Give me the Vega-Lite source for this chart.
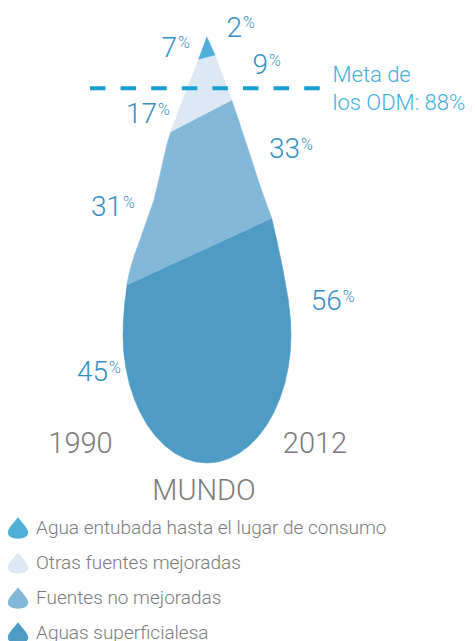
{
  "$schema": "https://vega.github.io/schema/vega-lite/v6.json",
  "width": 475,
  "height": 641,
  "autosize": {"type": "fit", "contains": "padding"},
  "padding": 0,
  "background": "white",
  "config": {"view": {"stroke": null}, "text": {"font": "Roboto", "fontWeight": 300}},
  "datasets": {
    "bands": [
      {"band": "Aguas superficialesa", "i": 0, "x": 126.7, "y": 285},
      {"band": "Aguas superficialesa", "i": 1, "x": 271.7, "y": 218.3},
      {"band": "Aguas superficialesa", "i": 2, "x": 276.7, "y": 240},
      {"band": "Aguas superficialesa", "i": 3, "x": 283, "y": 270},
      {"band": "Aguas superficialesa", "i": 4, "x": 288.3, "y": 300},
      {"band": "Aguas superficialesa", "i": 5, "x": 290.5, "y": 320},
      {"band": "Aguas superficialesa", "i": 6, "x": 291, "y": 335},
      {"band": "Aguas superficialesa", "i": 7, "x": 290.3, "y": 351.7},
      {"band": "Aguas superficialesa", "i": 8, "x": 288.1, "y": 368.1},
      {"band": "Aguas superficialesa", "i": 9, "x": 284.6, "y": 384},
      {"band": "Aguas superficialesa", "i": 10, "x": 279.7, "y": 399},
      {"band": "Aguas superficialesa", "i": 11, "x": 273.6, "y": 412.9},
      {"band": "Aguas superficialesa", "i": 12, "x": 266.4, "y": 425.5},
      {"band": "Aguas superficialesa", "i": 13, "x": 258.1, "y": 436.6},
      {"band": "Aguas superficialesa", "i": 14, "x": 249, "y": 445.8},
      {"band": "Aguas superficialesa", "i": 15, "x": 239.1, "y": 453.3},
      {"band": "Aguas superficialesa", "i": 16, "x": 228.8, "y": 458.6},
      {"band": "Aguas superficialesa", "i": 17, "x": 218, "y": 461.9},
      {"band": "Aguas superficialesa", "i": 18, "x": 207, "y": 463},
      {"band": "Aguas superficialesa", "i": 19, "x": 196, "y": 461.9},
      {"band": "Aguas superficialesa", "i": 20, "x": 185.2, "y": 458.6},
      {"band": "Aguas superficialesa", "i": 21, "x": 174.9, "y": 453.3},
      {"band": "Aguas superficialesa", "i": 22, "x": 165, "y": 445.8},
      {"band": "Aguas superficialesa", "i": 23, "x": 155.9, "y": 436.6},
      {"band": "Aguas superficialesa", "i": 24, "x": 147.6, "y": 425.5},
      {"band": "Aguas superficialesa", "i": 25, "x": 140.4, "y": 412.9},
      {"band": "Aguas superficialesa", "i": 26, "x": 134.3, "y": 399},
      {"band": "Aguas superficialesa", "i": 27, "x": 129.4, "y": 384},
      {"band": "Aguas superficialesa", "i": 28, "x": 125.9, "y": 368.1},
      {"band": "Aguas superficialesa", "i": 29, "x": 123.7, "y": 351.7},
      {"band": "Aguas superficialesa", "i": 30, "x": 123, "y": 335},
      {"band": "Aguas superficialesa", "i": 31, "x": 123.5, "y": 320},
      {"band": "Aguas superficialesa", "i": 32, "x": 125, "y": 300},
      {"band": "Fuentes no mejoradas", "i": 0, "x": 170.7, "y": 131.7},
      {"band": "Fuentes no mejoradas", "i": 1, "x": 231.7, "y": 100},
      {"band": "Fuentes no mejoradas", "i": 2, "x": 238.5, "y": 120},
      {"band": "Fuentes no mejoradas", "i": 3, "x": 245, "y": 140},
      {"band": "Fuentes no mejoradas", "i": 4, "x": 251.7, "y": 160},
      {"band": "Fuentes no mejoradas", "i": 5, "x": 258, "y": 180},
      {"band": "Fuentes no mejoradas", "i": 6, "x": 265, "y": 200},
      {"band": "Fuentes no mejoradas", "i": 7, "x": 271.7, "y": 218.3},
      {"band": "Fuentes no mejoradas", "i": 8, "x": 126.7, "y": 285},
      {"band": "Fuentes no mejoradas", "i": 9, "x": 130, "y": 270},
      {"band": "Fuentes no mejoradas", "i": 10, "x": 134.5, "y": 255},
      {"band": "Fuentes no mejoradas", "i": 11, "x": 140, "y": 240},
      {"band": "Fuentes no mejoradas", "i": 12, "x": 147, "y": 220},
      {"band": "Fuentes no mejoradas", "i": 13, "x": 154, "y": 200},
      {"band": "Fuentes no mejoradas", "i": 14, "x": 158.8, "y": 180},
      {"band": "Fuentes no mejoradas", "i": 15, "x": 163.3, "y": 160},
      {"band": "Fuentes no mejoradas", "i": 16, "x": 168, "y": 140},
      {"band": "Otras fuentes mejoradas", "i": 0, "x": 198.3, "y": 59.3},
      {"band": "Otras fuentes mejoradas", "i": 1, "x": 215, "y": 55},
      {"band": "Otras fuentes mejoradas", "i": 2, "x": 223.2, "y": 77},
      {"band": "Otras fuentes mejoradas", "i": 3, "x": 231.7, "y": 100},
      {"band": "Otras fuentes mejoradas", "i": 4, "x": 170.7, "y": 131.7},
      {"band": "Otras fuentes mejoradas", "i": 5, "x": 177.1, "y": 115},
      {"band": "Otras fuentes mejoradas", "i": 6, "x": 184.3, "y": 96},
      {"band": "Otras fuentes mejoradas", "i": 7, "x": 191.2, "y": 78},
      {"band": "Agua entubada hasta el lugar de consumo", "i": 0, "x": 206.7, "y": 36.7},
      {"band": "Agua entubada hasta el lugar de consumo", "i": 1, "x": 215, "y": 55},
      {"band": "Agua entubada hasta el lugar de consumo", "i": 2, "x": 198.3, "y": 59.3}
    ],
    "pct": [
      {"t": "2", "x": 242, "y": 36.7},
      {"t": "7", "x": 177, "y": 56.7},
      {"t": "9", "x": 268, "y": 74},
      {"t": "17", "x": 157, "y": 123},
      {"t": "33", "x": 300, "y": 158.3},
      {"t": "31", "x": 122, "y": 216},
      {"t": "56", "x": 341.7, "y": 310},
      {"t": "45", "x": 108, "y": 381}
    ],
    "gray": [
      {"t": "1990", "x": 80.5, "y": 453.3},
      {"t": "2012", "x": 315, "y": 453.3},
      {"t": "MUNDO", "x": 204, "y": 500}
    ],
    "meta": [
      {"t": "Meta de", "x": 332.5, "y": 82},
      {"t": "los ODM: 88%", "x": 332.5, "y": 110}
    ],
    "goal": [{"x": 90, "x2": 320, "y": 88.3}]
  },
  "layer": [
    {
      "data": {"name": "bands"},
      "mark": {"type": "line", "strokeWidth": 0.6, "interpolate": "linear"},
      "encoding": {
        "x": {"field": "x", "type": "quantitative", "scale": {"domain": [0, 475], "nice": false, "zero": false}, "axis": null},
        "y": {"field": "y", "type": "quantitative", "scale": {"domain": [0, 641], "nice": false, "zero": false, "reverse": true}, "axis": null},
        "order": {"field": "i", "type": "quantitative"},
        "fill": {
          "field": "band", "type": "nominal",
          "scale": {
            "domain": ["Agua entubada hasta el lugar de consumo", "Otras fuentes mejoradas", "Fuentes no mejoradas", "Aguas superficialesa"],
            "range": ["#4fb0d8", "#dce9f4", "#84b8d8", "#4e9bc6"]
          },
          "legend": {
            "orient": "none",
            "legendX": 7,
            "legendY": 517,
            "title": null,
            "padding": 0,
            "symbolType": "M0,-1 C0.3,-0.55 0.95,0 0.95,0.42 C0.95,0.8 0.5,1 0,1 C-0.5,1 -0.95,0.8 -0.95,0.42 C-0.95,0 -0.3,-0.55 0,-1 Z",
            "symbolSize": 460,
            "symbolStrokeWidth": 0,
            "symbolOpacity": 1,
            "labelFont": "Roboto",
            "labelFontWeight": 300,
            "labelFontSize": 19,
            "labelColor": "#7b7b7b",
            "labelLimit": 0,
            "labelOffset": 7,
            "rowPadding": 13
          }
        },
        "stroke": {
          "field": "band", "type": "nominal",
          "scale": {
            "domain": ["Agua entubada hasta el lugar de consumo", "Otras fuentes mejoradas", "Fuentes no mejoradas", "Aguas superficialesa"],
            "range": ["#4fb0d8", "#dce9f4", "#84b8d8", "#4e9bc6"]
          },
          "legend": null
        }
      }
    },
    {
      "data": {"name": "goal"},
      "mark": {"type": "rule", "color": "#1a9fd3", "strokeWidth": 4, "strokeDash": [15.5, 15.1]},
      "encoding": {
        "x": {"field": "x", "type": "quantitative", "scale": {"domain": [0, 475], "nice": false, "zero": false}, "axis": null},
        "x2": {"field": "x2"},
        "y": {"field": "y", "type": "quantitative", "scale": {"domain": [0, 641], "nice": false, "zero": false, "reverse": true}, "axis": null}
      }
    },
    {
      "data": {"name": "pct"},
      "mark": {"type": "text", "align": "right", "baseline": "alphabetic", "fontSize": 28, "color": "#3690c6"},
      "encoding": {
        "x": {"field": "x", "type": "quantitative", "scale": {"domain": [0, 475], "nice": false, "zero": false}, "axis": null},
        "y": {"field": "y", "type": "quantitative", "scale": {"domain": [0, 641], "nice": false, "zero": false, "reverse": true}, "axis": null},
        "text": {"field": "t"}
      }
    },
    {
      "data": {"name": "pct"},
      "mark": {"type": "text", "align": "left", "baseline": "alphabetic", "fontSize": 16, "dx": 1, "dy": -8.5, "color": "#3690c6", "text": "%"},
      "encoding": {
        "x": {"field": "x", "type": "quantitative", "scale": {"domain": [0, 475], "nice": false, "zero": false}, "axis": null},
        "y": {"field": "y", "type": "quantitative", "scale": {"domain": [0, 641], "nice": false, "zero": false, "reverse": true}, "axis": null}
      }
    },
    {
      "data": {"name": "gray"},
      "mark": {"type": "text", "align": "center", "baseline": "alphabetic", "fontSize": 29, "color": "#7b7b7b"},
      "encoding": {
        "x": {"field": "x", "type": "quantitative", "scale": {"domain": [0, 475], "nice": false, "zero": false}, "axis": null},
        "y": {"field": "y", "type": "quantitative", "scale": {"domain": [0, 641], "nice": false, "zero": false, "reverse": true}, "axis": null},
        "text": {"field": "t"}
      }
    },
    {
      "data": {"name": "meta"},
      "mark": {"type": "text", "align": "left", "baseline": "alphabetic", "fontSize": 22, "color": "#40b0dc"},
      "encoding": {
        "x": {"field": "x", "type": "quantitative", "scale": {"domain": [0, 475], "nice": false, "zero": false}, "axis": null},
        "y": {"field": "y", "type": "quantitative", "scale": {"domain": [0, 641], "nice": false, "zero": false, "reverse": true}, "axis": null},
        "text": {"field": "t"}
      }
    }
  ]
}
